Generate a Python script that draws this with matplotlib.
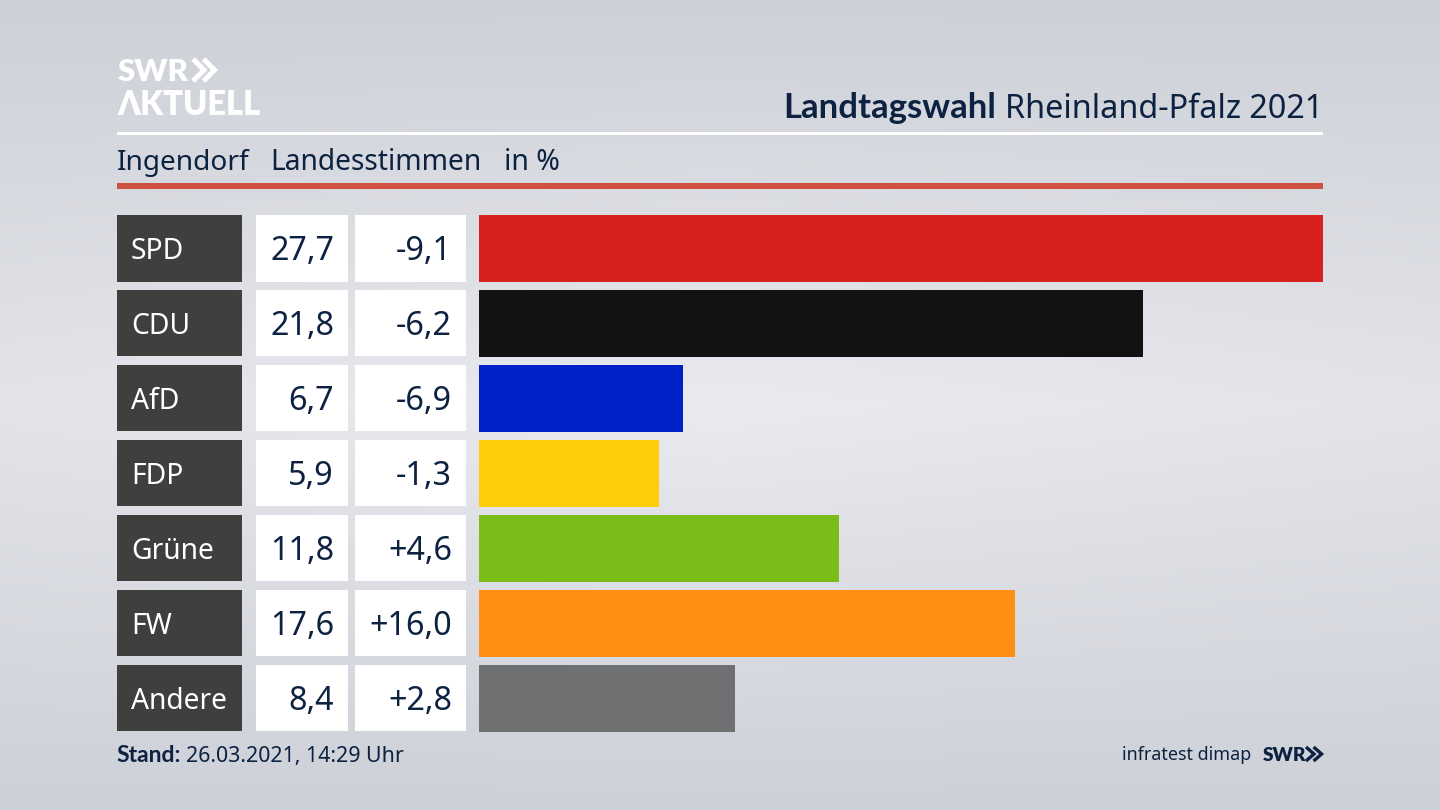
import numpy as np
from matplotlib import pyplot as plt
from matplotlib.patches import Rectangle

parties = ['SPD', 'CDU', 'AfD', 'FDP', 'Grüne', 'FW', 'Andere']
shares = [27.7, 21.8, 6.7, 5.9, 11.8, 17.6, 8.4]
changes = ['-9,1', '-6,2', '-6,9', '-1,3', '+4,6', '+16,0', '+2,8']
colors = ['#d8201f', '#121212', '#0020c8', '#ffcd07', '#7abd18', '#ff8e14', '#6f7072']

navy = '#0c2240'
plt.rcParams['font.family'] = ['Noto Sans', 'DejaVu Sans']
bold_font = ['Lato', 'DejaVu Sans']

fig = plt.figure(figsize=(14.4, 8.1), dpi=100)

# full size axes in pixels, for background and the table part
bg = fig.add_axes([0, 0, 1, 1])
bg.set_xlim(0, 1440)
bg.set_ylim(810, 0)
bg.axis('off')

yy, xx = np.mgrid[0:1:200j, 0:1:356j]
shade = np.clip(1 - np.abs(yy - 0.5) * 2, 0, 1) * (1 - 0.25 * np.abs(xx - 0.5) * 2)
low = np.array([205, 208, 215]) / 255
high = np.array([234, 235, 240]) / 255
grad = low + (high - low) * shade[..., None]
bg.imshow(grad, extent=(0, 1440, 810, 0), aspect='auto', zorder=0)


def chevrons(x, top, bottom, width, color, lw):
    # the two arrow heads of the SWR logo
    mid = (top + bottom) / 2
    for dx in (0, width * 0.95):
        bg.plot([x + dx, x + dx + width, x + dx], [top, mid, bottom], color=color, lw=lw,
                solid_joinstyle='miter', solid_capstyle='butt')


# logo
bg.text(118, 81, 'SWR', color='white', fontsize=22.5, family=bold_font, fontweight='heavy', va='baseline')
chevrons(193, 59, 81, 11, 'white', 3.6)
bg.text(117, 115, 'ΛKTUELL', color='white', fontsize=23.5, family=bold_font, fontweight='heavy', va='baseline')

# header
title = bg.text(1323, 118, 'Rheinland-Pfalz 2021', color=navy, fontsize=23.3, ha='right', va='baseline')
fig.canvas.draw()
box = title.get_window_extent()
bg.text(box.x0 - 9, 118, 'Landtagswahl', color=navy, fontsize=25, family=bold_font, fontweight='bold',
        ha='right', va='baseline')
bg.add_patch(Rectangle((117, 132), 1206, 3, fc='white', ec='none'))
bg.text(117, 170, 'Ingendorf', color=navy, fontsize=20.2, va='baseline')
bg.text(270, 170, 'Landesstimmen', color=navy, fontsize=20.3, va='baseline')
bg.text(504, 170, 'in %', color=navy, fontsize=20.5, va='baseline')
bg.add_patch(Rectangle((117, 183), 1206, 6, fc='#cf5240', ec='none'))

# table cells left of the bars
tops = 215 + 74.92 * np.arange(len(parties))
for top, party, share, change in zip(tops, parties, shares, changes):
    mid = top + 33
    bg.add_patch(Rectangle((117, top), 124.5, 66.5, fc='#3f3f3d', ec='none'))
    bg.add_patch(Rectangle((256, top), 92, 66.5, fc='white', ec='none'))
    bg.add_patch(Rectangle((355, top), 111, 66.5, fc='white', ec='none'))
    bg.text(131, mid + 11, party, color='white', fontsize=20.3, va='baseline')
    bg.text(334, mid + 12, f'{share:.1f}'.replace('.', ','), color=navy, fontsize=23.3, ha='right', va='baseline')
    bg.text(452, mid + 12, change, color=navy, fontsize=23.3, ha='right', va='baseline')

# bars, full length = biggest share
ax = fig.add_axes([479 / 1440, 1 - 731.5 / 810, (1323 - 479) / 1440, (731.5 - 215) / 810])
ax.patch.set_alpha(0)
ax.barh(range(len(parties)), shares, height=66.5 / 74.92, color=colors)
ax.set_xlim(0, max(shares))
ax.set_ylim(len(parties) - 1 + 66.5 / 74.92 / 2, -66.5 / 74.92 / 2)
ax.axis('off')

# footer
bg.text(116.5, 762, 'Stand:', color=navy, fontsize=16.5, family=bold_font, fontweight='bold', va='baseline')
bg.text(186, 762, '26.03.2021, 14:29 Uhr', color=navy, fontsize=15.4, va='baseline')
bg.text(1251, 760, 'infratest dimap', color=navy, fontsize=12.9, ha='right', va='baseline')
bg.text(1263, 761, 'SWR', color=navy, fontsize=13.8, family=bold_font, fontweight='heavy', va='baseline')
chevrons(1306, 747, 761, 8, navy, 2.4)

fig.savefig('out.png', dpi=100)
